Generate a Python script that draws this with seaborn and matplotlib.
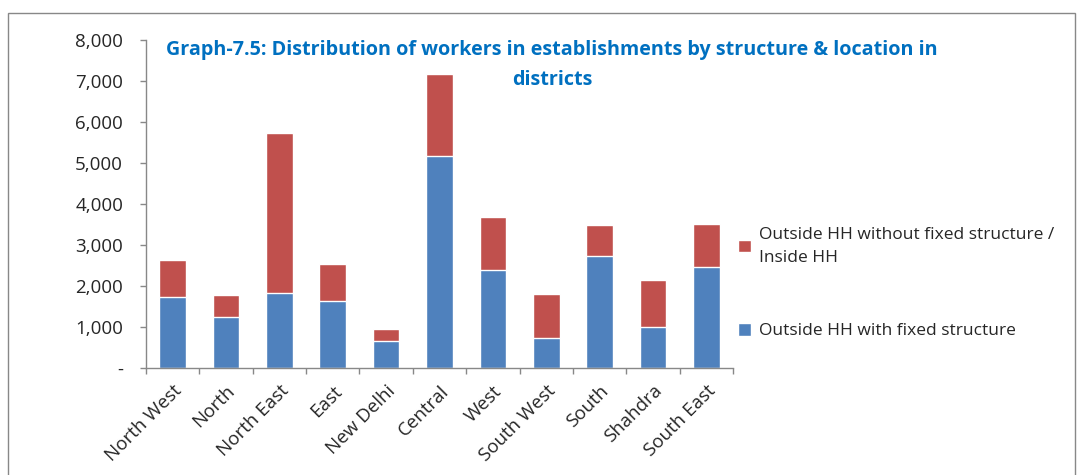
import matplotlib
matplotlib.use("Agg")
import matplotlib.pyplot as plt
import matplotlib.ticker as mticker
from matplotlib.patches import Rectangle
import seaborn as sns
import numpy as np
import pandas as pd

# ----------------------------------------------------------
# data
# ----------------------------------------------------------
districts = ["North West", "North", "North East", "East", "New Delhi", "Central",
             "West", "South West", "South", "Shahdra", "South East"]
fixed = [1730, 1243, 1827, 1632, 665, 5180, 2388, 731, 2736, 999, 2461]
not_fixed = [892, 526, 3906, 902, 293, 1991, 1306, 1072, 763, 1153, 1055]

label_fixed = "Outside HH with fixed structure"
label_not_fixed = "Outside HH without fixed structure /\nInside HH"
title = "Graph-7.5: Distribution of workers in establishments by structure & location in\ndistricts"

blue = "#4F81BD"
red = "#C0504D"

df = pd.DataFrame({"district": districts, "fixed": fixed, "not_fixed": not_fixed})
df["total"] = df["fixed"] + df["not_fixed"]

# ----------------------------------------------------------
# plot
# ----------------------------------------------------------
sns.set_style("white")
plt.rcParams["font.family"] = ["Open Sans", "DejaVu Sans"]

fig = plt.figure(figsize=(10.83, 4.75), dpi=100)
ax = fig.add_axes([146 / 1083, 1 - 368 / 475, (733 - 146) / 1083, (368 - 40) / 475])

sns.barplot(data=df, x="district", y="total", color=red, width=0.5,
            saturation=1, ax=ax, label=label_not_fixed)
sns.barplot(data=df, x="district", y="fixed", color=blue, width=0.5,
            saturation=1, ax=ax, label=label_fixed)
handles, labels = ax.get_legend_handles_labels()
if ax.get_legend() is not None:
    ax.get_legend().remove()

ax.set_xlim(-0.5, len(districts) - 0.5)
ax.set_ylim(0, 8000)
ax.set_xlabel("")
ax.set_ylabel("")

ax.yaxis.set_major_locator(mticker.MultipleLocator(1000))
ax.yaxis.set_major_formatter(mticker.FuncFormatter(
    lambda v, p: "-" if v == 0 else f"{int(v):,}"))
ax.tick_params(axis="y", labelsize=13.5, length=4.5, color="#888888", width=1,
               direction="out", left=True, pad=12)

ax.set_xticks(range(len(districts)))
ax.set_xticklabels(districts, rotation=45, ha="right", rotation_mode="anchor",
                   fontsize=13.5)
ax.tick_params(axis="x", which="major", length=0, pad=10)
ax.set_xticks(np.arange(-0.5, len(districts)), minor=True)
ax.tick_params(axis="x", which="minor", length=4.5, color="#888888", width=1,
               direction="out", bottom=True)

for side in ["top", "right"]:
    ax.spines[side].set_visible(False)
for side in ["left", "bottom"]:
    ax.spines[side].set_color("#888888")
    ax.spines[side].set_linewidth(1)

fig.text(552 / 1083, 1 - 65 / 475, title, ha="center", va="center",
         color="#0070C0", fontsize=14.2, fontweight="bold", linespacing=1.7)

leg = fig.legend(handles, labels, loc="center left",
                 bbox_to_anchor=(722 / 1083, 1 - 283 / 475),
                 frameon=False, fontsize=12.5, handlelength=0.75, handleheight=0.75,
                 labelspacing=3.3, handletextpad=0.5)
for t in leg.get_texts():
    t.set_linespacing(1.6)

# outer chart border
fig.patches.append(Rectangle((8 / 1083, -0.1), (1075 - 8) / 1083, 1.1 - 13 / 475,
                             transform=fig.transFigure, fill=False,
                             edgecolor="#888888", linewidth=1))

fig.savefig("out.png", dpi=100)
